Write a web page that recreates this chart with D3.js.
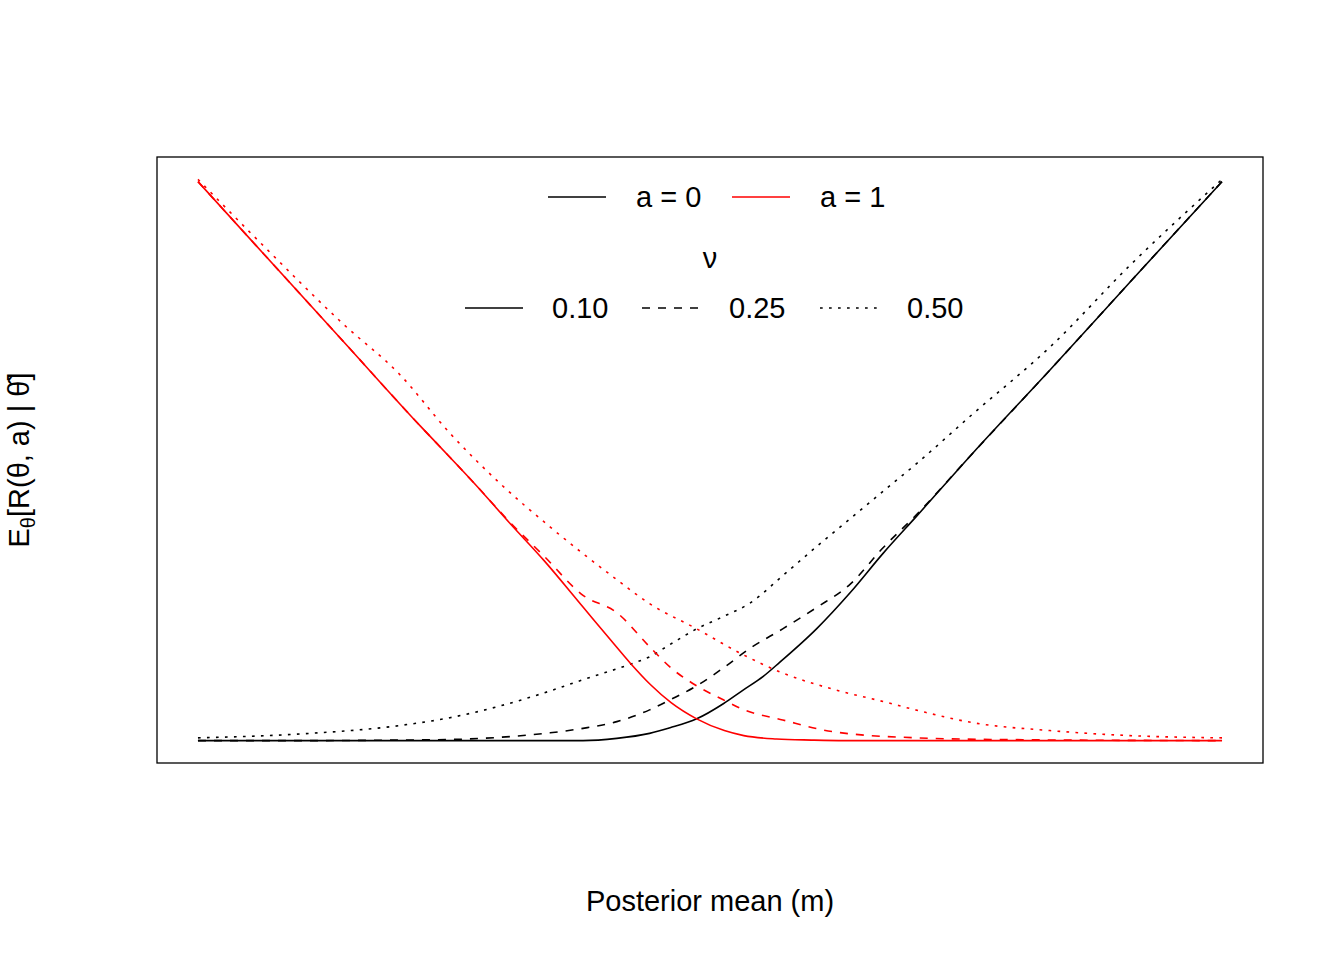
<!DOCTYPE html>
<html>
<body style="margin:0;background:white">
<svg id="view" width="1344" height="960"></svg>
<script src="https://cdnjs.cloudflare.com/ajax/libs/d3/7.8.5/d3.min.js"></script>
<script>
    // posterior mean grids (0 = left end of curves, 1 = right end) and values
    const mA0s = [0, 0.2, 0.376, 0.409, 0.441, 0.461, 0.487, 0.513, 0.532, 0.552, 0.568, 0.604, 0.637, 0.669, 0.702, 0.757, 0.832, 0.91, 1];
    const a0nu10 = [0, 0, 0, 0.004, 0.013, 0.023, 0.039, 0.066, 0.09, 0.115, 0.14, 0.2, 0.265, 0.335, 0.402, 0.515, 0.663, 0.82, 1.0];
    const mA0d = [0, 0.1, 0.197, 0.246, 0.295, 0.344, 0.376, 0.409, 0.441, 0.461, 0.487, 0.513, 0.539, 0.571, 0.604, 0.637, 0.669, 0.702, 0.757, 0.832, 0.91, 1];
    const a0nu25 = [0, 0, 0.001, 0.002, 0.006, 0.014, 0.022, 0.034, 0.055, 0.073, 0.098, 0.13, 0.165, 0.2, 0.238, 0.28, 0.345, 0.405, 0.515, 0.663, 0.82, 1.0];
    const mA0t = [0, 0.1, 0.197, 0.246, 0.295, 0.344, 0.376, 0.421, 0.441, 0.461, 0.487, 0.513, 0.539, 0.571, 0.604, 0.637, 0.669, 0.702, 0.757, 0.832, 0.91, 1];
    const a0nu50 = [0.005, 0.012, 0.027, 0.041, 0.062, 0.089, 0.109, 0.136, 0.15, 0.172, 0.2, 0.222, 0.246, 0.295, 0.347, 0.397, 0.446, 0.496, 0.585, 0.704, 0.85, 1.004];

    const mA1s = [0, 0.064, 0.142, 0.217, 0.246, 0.27, 0.305, 0.338, 0.376, 0.403, 0.422, 0.442, 0.462, 0.487, 0.514, 0.533, 0.565, 0.599, 0.631, 0.7, 1];
    const a1nu10 = [1.0, 0.871, 0.714, 0.563, 0.507, 0.46, 0.388, 0.322, 0.239, 0.18, 0.139, 0.1, 0.068, 0.039, 0.018, 0.009, 0.003, 0.001, 0, 0, 0];
    const mA1d = [0, 0.064, 0.142, 0.217, 0.246, 0.27, 0.305, 0.338, 0.376, 0.409, 0.441, 0.462, 0.487, 0.513, 0.532, 0.571, 0.62, 0.702, 0.783, 1];
    const a1nu25 = [1.0, 0.871, 0.714, 0.563, 0.507, 0.46, 0.39, 0.33, 0.26, 0.229, 0.168, 0.13, 0.098, 0.073, 0.056, 0.037, 0.016, 0.005, 0.002, 0];
    const mA1t = [0, 0.064, 0.142, 0.197, 0.246, 0.295, 0.344, 0.409, 0.441, 0.487, 0.532, 0.571, 0.62, 0.669, 0.705, 0.757, 0.832, 0.91, 1];
    const a1nu50 = [1.004, 0.885, 0.745, 0.655, 0.55, 0.46, 0.382, 0.288, 0.245, 0.2, 0.154, 0.121, 0.092, 0.07, 0.053, 0.032, 0.018, 0.009, 0.005];

    const nuLabels = ['0.10', '0.25', '0.50'];
    const aLabels = ['a = 0', 'a = 1'];
    const colours = ['black', 'red'];
    const dashes = [null, '8,8', '2.7,6.3'];

    const svg = d3.select('#view');
    const font = 'Liberation Sans, Arial, sans-serif';

    const x = d3.scaleLinear().domain([-0.04, 1.04]).range([157, 1263]);
    const y = d3.scaleLinear().domain([-0.04, 1.044]).range([763, 157]);

    svg.append('rect')
        .attr('x', 157).attr('y', 157).attr('width', 1106).attr('height', 606)
        .attr('fill', 'none').attr('stroke', 'black').attr('stroke-width', 1.3);

    const line = d3.line().x(d => x(d[0])).y(d => y(d[1])).curve(d3.curveMonotoneX);

    const series = [
        [mA0s, a0nu10, 0, 0], [mA0d, a0nu25, 0, 1], [mA0t, a0nu50, 0, 2],
        [mA1s, a1nu10, 1, 0], [mA1d, a1nu25, 1, 1], [mA1t, a1nu50, 1, 2]
    ];
    series.forEach(s => {
        svg.append('path')
            .attr('d', line(s[0].map((v, i) => [v, s[1][i]])))
            .attr('fill', 'none')
            .attr('stroke', colours[s[2]])
            .attr('stroke-width', 1.6)
            .attr('stroke-dasharray', dashes[s[3]]);
    });

    // legend: a
    const aPos = [548, 732];
    aLabels.forEach((t, i) => {
        svg.append('line').attr('x1', aPos[i]).attr('x2', aPos[i] + 58)
            .attr('y1', 197).attr('y2', 197)
            .attr('stroke', colours[i]).attr('stroke-width', 1.6);
        svg.append('text').attr('x', aPos[i] + 88).attr('y', 207)
            .attr('font-family', font).attr('font-size', 29).text(t);
    });

    // legend: nu
    svg.append('text').attr('x', 710).attr('y', 268).attr('text-anchor', 'middle')
        .attr('font-family', font).attr('font-size', 29).text('ν');
    const nuPos = [465, 642, 820];
    nuLabels.forEach((t, i) => {
        svg.append('line').attr('x1', nuPos[i]).attr('x2', nuPos[i] + 58)
            .attr('y1', 308).attr('y2', 308)
            .attr('stroke', 'black').attr('stroke-width', 1.6)
            .attr('stroke-dasharray', dashes[i]);
        svg.append('text').attr('x', nuPos[i] + 87).attr('y', 318)
            .attr('font-family', font).attr('font-size', 29).text(t);
    });

    // axis titles
    svg.append('text').attr('x', 710).attr('y', 911).attr('text-anchor', 'middle')
        .attr('font-family', font).attr('font-size', 29).text('Posterior mean (m)');

    const yl = svg.append('text')
        .attr('transform', 'translate(29,460) rotate(-90)')
        .attr('text-anchor', 'middle')
        .attr('font-family', font).attr('font-size', 29);
    yl.append('tspan').text('E');
    yl.append('tspan').attr('font-size', 20).attr('dy', 6).text('θ');
    yl.append('tspan').attr('dy', -6).text('[R(θ, a) | θ\u0302]');
</script>
</body>
</html>
